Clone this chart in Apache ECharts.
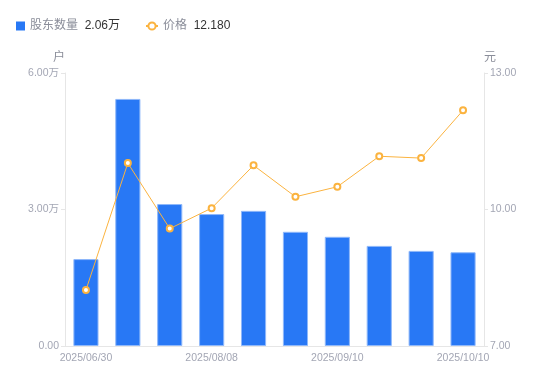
<!DOCTYPE html>
<html><head><meta charset="utf-8">
<script src="https://cdn.jsdelivr.net/npm/echarts@6/dist/echarts.min.js"></script>
<style>html,body{margin:0;padding:0;background:#fff}#c{width:550px;height:381px}</style>
</head><body><div id="c"></div>
<script>
var categories = ['2025/06/30','2025/07/10','2025/07/20','2025/08/08','2025/08/20','2025/08/31','2025/09/10','2025/09/19','2025/09/30','2025/10/10'];
var holders = [1.91, 5.43, 3.12, 2.90, 2.97, 2.51, 2.40, 2.20, 2.09, 2.06];
var prices = [8.23, 11.02, 9.58, 10.03, 10.97, 10.28, 10.50, 11.17, 11.13, 12.18];
var legendValues = {'股东数量': '2.06万', '价格': '12.180'};

var chart = echarts.init(document.getElementById('c'), null, {renderer:'canvas'});
var font = '"Liberation Sans", Arial, "Noto Sans CJK SC", sans-serif';
function legendFmt(n){ return '{n|' + n + '}  {v|' + legendValues[n] + '}'; }
var legendText = {rich: {n:{color:'#8a8d99', fontSize:12, fontFamily: font}, v:{color:'#333', fontSize:12, fontFamily: font}}};
chart.setOption({
  animation: false,
  textStyle: {fontFamily: font},
  legend: [{
    left: 16, top: 20, padding: 0, itemWidth: 9, itemHeight: 9, itemGap: 5,
    data: [{name:'股东数量', icon:'rect', itemStyle:{borderWidth:0}}],
    formatter: legendFmt, textStyle: legendText
  },{
    left: 145, top: 20, padding: 0, itemWidth: 12, itemHeight: 9, itemGap: 4,
    data: [{name:'价格'}],
    formatter: legendFmt, textStyle: legendText
  }],
  grid: {left: 65, right: 66, top: 73, bottom: 35},
  xAxis: {
    type: 'category', data: categories,
    axisLine: {lineStyle:{color:'#e6e6e6'}},
    axisTick: {show:false},
    axisLabel: {color:'#a3a6b4', fontSize:10.5, interval: 2, margin: 7}
  },
  yAxis: [{
    type: 'value', min: 0, max: 6, interval: 3, name: '户',
    nameTextStyle: {color:'#8a8d99', fontSize:12, align:'right'}, nameGap: 9,
    axisLine: {show:true, lineStyle:{color:'#e6e6e6'}},
    axisTick: {show:true, length:4, lineStyle:{color:'#e6e6e6'}},
    splitLine: {show:false},
    axisLabel: {color:'#a3a6b4', fontSize:10.5, margin: 6, formatter: function(v){ return v===0 ? '0.00' : v.toFixed(2)+'万'; }}
  },{
    type: 'value', min: 7, max: 13, interval: 3, name: '元',
    nameTextStyle: {color:'#8a8d99', fontSize:12, align:'left'}, nameGap: 9,
    axisLine: {show:true, lineStyle:{color:'#e6e6e6'}},
    axisTick: {show:true, length:4, lineStyle:{color:'#e6e6e6'}},
    splitLine: {show:false},
    axisLabel: {color:'#a3a6b4', fontSize:10.5, margin: 6, formatter: function(v){ return v.toFixed(2); }}
  }],
  series: [{
    name: '股东数量', type: 'bar', data: holders, barWidth: '60%', yAxisIndex: 0,
    itemStyle: {color:'#2878f5', borderColor:'#8fb8fa', borderWidth: 1}
  },{
    name: '价格', type: 'line', data: prices, yAxisIndex: 1,
    symbol: 'circle', symbolSize: 6, showSymbol: true,
    lineStyle: {color:'#fbb33f', width: 1},
    itemStyle: {color:'#fff', borderColor:'#fbb33f', borderWidth: 2}
  }]
});
</script></body></html>
